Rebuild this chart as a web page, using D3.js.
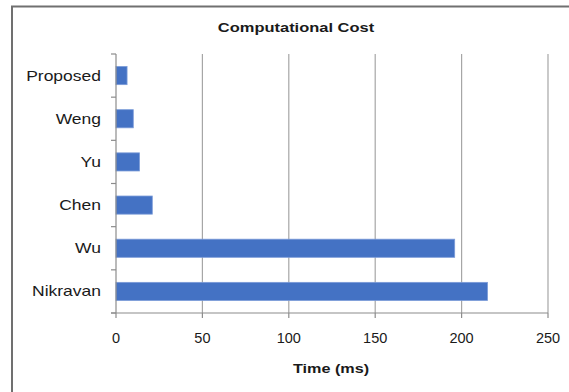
<!DOCTYPE html>
<html><head><meta charset="utf-8">
<script src="https://cdn.jsdelivr.net/npm/d3@7"></script>
<style>body{margin:0;background:#fff}svg{display:block}text{font-family:"Liberation Sans",Arial,sans-serif;fill:#1a1a1a}</style>
</head><body>
<svg id="c" width="569" height="392"></svg>
<script>
const categories = ["Proposed","Weng","Yu","Chen","Wu","Nikravan"];
const values = [6.4, 10, 13.6, 21, 196, 215];
const xTicks = [0,50,100,150,200,250];
const title = "Computational Cost";
const xTitle = "Time (ms)";

const svg = d3.select("#c");
const m = {left:116, right:21, top:54, bottom:79};
const W = 569, H = 392;
const x = d3.scaleLinear().domain([0,250]).range([m.left, W - m.right]);
const y = d3.scaleBand().domain(categories).range([m.top, H - m.bottom]).paddingInner(0.58).paddingOuter(0.29);

// outer frame
svg.append("path").attr("d", `M12,${H+5} L12,6.5 L${W+5},6.5`).attr("fill","none").attr("stroke","#707070").attr("stroke-width",2);

// gridlines
svg.append("g").selectAll("line").data(xTicks.slice(1)).join("line")
  .attr("x1", d=>x(d)).attr("x2", d=>x(d)).attr("y1", m.top).attr("y2", H-m.bottom)
  .attr("stroke","#a6a6a6").attr("stroke-width",1.2);

// bars
svg.append("g").selectAll("rect").data(categories).join("rect")
  .attr("x", x(0)).attr("y", (d)=>y(d))
  .attr("width", (d,i)=>x(values[i]) - x(0)).attr("height", y.bandwidth())
  .attr("fill","#4472c4").attr("stroke","#7b9bd8").attr("stroke-width",0.8);

// y axis
const yAxisG = svg.append("g");
yAxisG.append("line").attr("x1",x(0)).attr("x2",x(0)).attr("y1",m.top).attr("y2",H-m.bottom).attr("stroke","#8c8c8c").attr("stroke-width",1.2);
const bounds = d3.range(categories.length+1).map(i => m.top + (H-m.top-m.bottom)*i/categories.length);
yAxisG.selectAll("line.t").data(bounds).join("line").attr("class","t")
  .attr("x1",x(0)-5).attr("x2",x(0)).attr("y1",d=>d).attr("y2",d=>d).attr("stroke","#8c8c8c").attr("stroke-width",1.2);
yAxisG.selectAll("text").data(categories).join("text")
  .attr("transform", d=>`translate(101,${y(d)+y.bandwidth()/2+5}) scale(1.25,1)`)
  .attr("text-anchor","end").attr("font-size",14).text(d=>d);

// x axis
const xAxisG = svg.append("g");
xAxisG.append("line").attr("x1",x(0)-5).attr("x2",x(250)).attr("y1",H-m.bottom).attr("y2",H-m.bottom).attr("stroke","#8c8c8c").attr("stroke-width",1.2);
xAxisG.selectAll("line.t").data(xTicks).join("line").attr("class","t")
  .attr("x1",d=>x(d)).attr("x2",d=>x(d)).attr("y1",H-m.bottom).attr("y2",H-m.bottom+5).attr("stroke","#8c8c8c").attr("stroke-width",1.2);
xAxisG.selectAll("text").data(xTicks).join("text")
  .attr("x",d=>x(d)).attr("y",343).attr("text-anchor","middle").attr("font-size",14.5).text(d=>d);

// titles
svg.append("text").attr("transform","translate(296,32) scale(1.22,1)").attr("text-anchor","middle")
  .attr("font-size",13.5).attr("font-weight","bold").text(title);
svg.append("text").attr("transform","translate(331,373) scale(1.2,1)").attr("text-anchor","middle")
  .attr("font-size",13.5).attr("font-weight","bold").text(xTitle);
</script>
</body></html>
